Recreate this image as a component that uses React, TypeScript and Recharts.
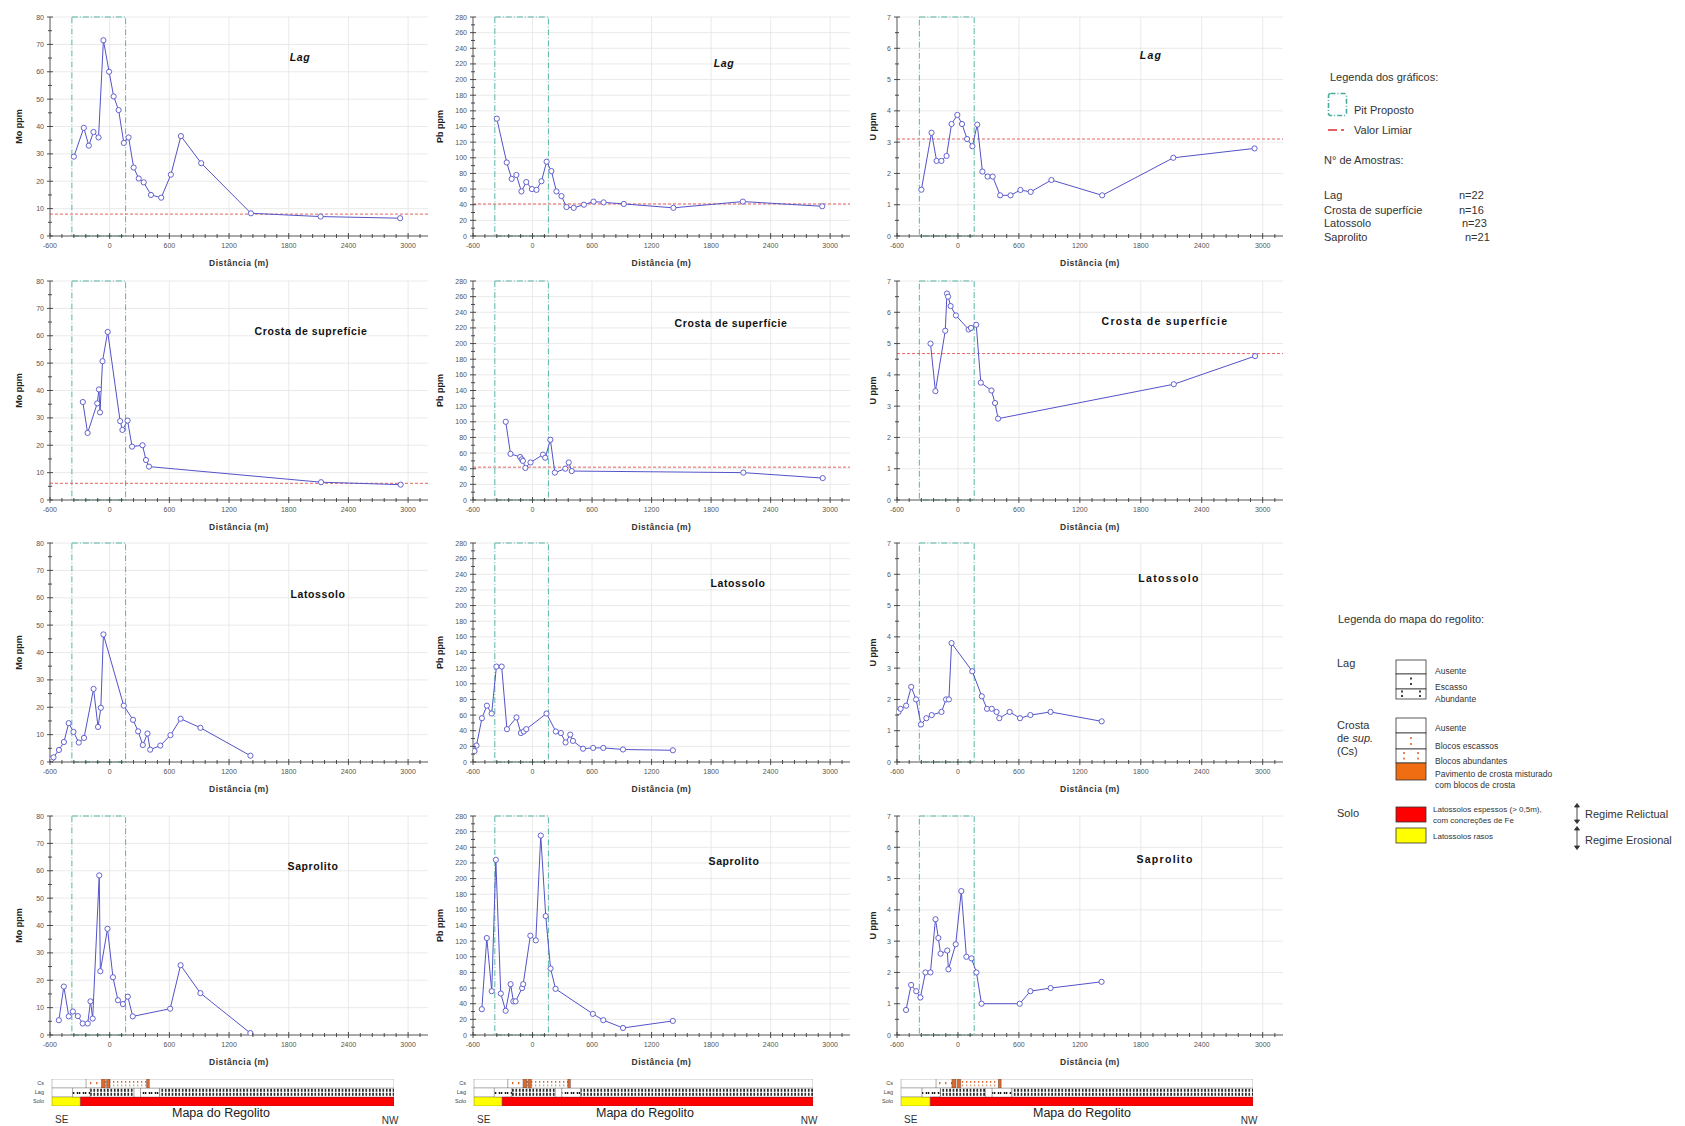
import React from 'react';
import {
  LineChart, Line, XAxis, YAxis, CartesianGrid, ReferenceLine, ReferenceArea,
  BarChart, Bar, Cell,
} from 'recharts';

// distances (m) of the samples per regolith unit
const distLag = [-360, -260, -210, -163, -112, -63, -6, 40, 90, 142, 190, 241, 292, 342, 415, 518, 615, 716, 920, 1420, 2120, 2920];
const distCrosta = [-270, -222, -125, -108, -97, -72, -20, 105, 128, 180, 225, 330, 365, 395, 2125, 2925];
const distLatossolo = [-585, -565, -510, -460, -412, -364, -311, -258, -162, -117, -89, -63, 141, 235, 286, 333, 380, 407, 509, 611, 713, 912, 1415];
const distSaprolito = [-511, -461, -411, -370, -320, -271, -221, -193, -171, -105, -94, -22, 33, 83, 133, 182, 232, 608, 713, 912, 1414];

const moLag = [29, 39.5, 33, 38, 36, 71.5, 60, 51, 46, 34, 36, 25, 21, 19.6, 15, 14, 22.4, 36.5, 26.6, 8.3, 7.1, 6.5];
const pbLag = [150, 94, 73, 78, 57, 69, 60, 59, 70, 95, 83, 57, 51, 37, 36, 40, 44, 43, 41, 36, 44, 38];
const uLag = [1.48, 3.3, 2.4, 2.4, 2.56, 3.58, 3.87, 3.58, 3.1, 2.87, 3.56, 2.06, 1.9, 1.9, 1.3, 1.3, 1.47, 1.41, 1.79, 1.3, 2.5, 2.8];

const moCrosta = [35.8, 24.5, 35.3, 40.4, 32, 50.7, 61.4, 28.8, 25.6, 29, 19.5, 20, 14.6, 12.2, 6.5, 5.6];
const pbCrosta = [100, 59, 55, 52, 50, 41, 48, 58, 54, 77, 35, 40, 48, 37, 35, 28];
const uCrosta = [5.0, 3.48, 5.41, 6.6, 6.5, 6.2, 5.9, 5.45, 5.5, 5.6, 3.75, 3.5, 3.1, 2.6, 3.7, 4.6];

const moLatossolo = [1, 1.7, 4.4, 7.3, 14.2, 11, 7.1, 8.8, 26.7, 12.8, 19.8, 46.6, 20.6, 15.4, 11.2, 6.2, 10.4, 4.5, 6, 9.8, 15.8, 12.5, 2.3];
const pbLatossolo = [14, 21, 56, 72, 62, 122, 122, 42, 57, 37, 39, 42, 62, 39, 37, 25, 35, 27, 17, 18, 18, 16, 15];
const uLatossolo = [1.6, 1.7, 1.8, 2.4, 2.0, 1.2, 1.4, 1.5, 1.6, 2.0, 2.0, 3.8, 2.9, 2.1, 1.7, 1.7, 1.6, 1.4, 1.6, 1.4, 1.5, 1.6, 1.3];

const moSaprolito = [5.4, 17.7, 6.8, 8.6, 6.9, 4.2, 4.2, 12.3, 6.0, 58.3, 23.3, 38.8, 21.1, 12.7, 11.3, 14, 6.8, 9.6, 25.5, 15.3, 0.7];
const pbSaprolito = [33, 124, 56, 224, 53, 31, 65, 43, 43, 60, 65, 127, 121, 255, 152, 85, 59, 27, 19, 9, 18];
const uSaprolito = [0.8, 1.6, 1.4, 1.2, 2.0, 2.0, 3.7, 3.1, 2.6, 2.7, 2.1, 2.9, 4.6, 2.5, 2.45, 2.0, 1.0, 1.0, 1.4, 1.5, 1.7];

// threshold ("valor limiar") per element, only drawn for Lag and Crosta
const limiarLag = [8, 41, 3.1];
const limiarCrosta = [6.1, 42, 4.68];

// proposed pit limits (m)
const pitX = [-380, 160];

const X_MAJOR = [-600, 0, 600, 1200, 1800, 2400, 3000];
const MO_TICKS = [0, 10, 20, 30, 40, 50, 60, 70, 80];
const PB_TICKS = [0, 20, 40, 60, 80, 100, 120, 140, 160, 180, 200, 220, 240, 260, 280];
const U_TICKS = [0, 1, 2, 3, 4, 5, 6, 7];

const titles = [
  ['Lag', 'Lag', 'Lag'],
  ['Crosta de suprefície', 'Crosta de superfície', 'Crosta de superfície'],
  ['Latossolo', 'Latossolo', 'Latossolo'],
  ['Saprolito', 'Saprolito', 'Saprolito'],
];

// regolith map strip (% of the section length, SE -> NW)
const csSeg = [10, 4.5, 1.1, 0.4, 1.0, 10.7, 0.8, 71.5];
const csKind = ['none', 'csSparse', 'pav', 'csDense', 'pav', 'csDense', 'pav', 'none'];
const lagSeg = [6, 5.2, 12.8, 1.9, 5.6, 68.5];
const lagKind = ['none', 'lagSparse', 'lagDense', 'none', 'lagSparse', 'lagDense'];
const soloSeg = [8.3, 91.7];
const soloKind = ['raso', 'espesso'];

const amostras = [
  ['Lag', 'n=22'],
  ['Crosta de superfície', 'n=16'],
  ['Latossolo', 'n=23'],
  ['Saprolito', 'n=21'],
];

// ---------- layout ----------
const COL_LEFT = [50, 473, 897];
const COL_W = [378, 377, 386];
const ROW_TOP = [17, 281, 543, 816];
const PLOT_H = 219;
const TITLE_POS = [
  [[300, 57], [724, 63], [1151, 55]],
  [[311, 331], [731, 323], [1165, 321]],
  [[318, 594], [738, 583], [1169, 578]],
  [[313, 866], [734, 861], [1165, 859]],
];
const MAPS = [
  { left: 52, width: 342, label: 221 },
  { left: 474, width: 339, label: 645 },
  { left: 901, width: 352, label: 1082 },
];

const LINE = '#5353c9';
const AXIS = '#3a3a3a';
const FONT = "'Liberation Sans', Arial, sans-serif";
const NARROW = "'Liberation Sans Narrow', 'Liberation Sans', Arial, sans-serif";

const ELEMENTS = [
  { label: 'Mo ppm', yMax: 80, majors: MO_TICKS, minor: 5, labelOffset: 17 },
  { label: 'Pb ppm', yMax: 280, majors: PB_TICKS, minor: 10, labelOffset: 15 },
  { label: 'U ppm', yMax: 7, majors: U_TICKS, minor: 0.5, labelOffset: 24 },
];

const ROWS = [
  { dist: distLag, series: [moLag, pbLag, uLag], limiar: limiarLag },
  { dist: distCrosta, series: [moCrosta, pbCrosta, uCrosta], limiar: limiarCrosta },
  { dist: distLatossolo, series: [moLatossolo, pbLatossolo, uLatossolo], limiar: null },
  { dist: distSaprolito, series: [moSaprolito, pbSaprolito, uSaprolito], limiar: null },
];

const X_TICKS: number[] = [];
for (let v = -600; v <= 3120; v += 120) X_TICKS.push(v);

const isMultiple = (v: number, step: number) => Math.abs(v / step - Math.round(v / step)) < 1e-6;

const XTick = (props: any) => {
  const { x, y, payload } = props;
  const major = isMultiple(payload.value, 600);
  const len = major ? 3 : 2;
  return (
    <g>
      <line x1={x} x2={x} y1={y - len} y2={y + len} stroke={AXIS} strokeWidth={0.9} />
      {major && (
        <text x={x} y={y + 12} textAnchor="middle" fontSize={7} fill="#555" fontFamily={NARROW}>
          {payload.value}
        </text>
      )}
    </g>
  );
};

const makeYTick = (step: number) => (props: any) => {
  const { x, y, payload } = props;
  const major = isMultiple(payload.value, step);
  const len = major ? 3 : 2;
  return (
    <g>
      <line x1={x - len} x2={x + len} y1={y} y2={y} stroke={AXIS} strokeWidth={0.9} />
      {major && (
        <text x={x - 6} y={y + 2.5} textAnchor="end" fontSize={7} fill="#555" fontFamily={NARROW}>
          {payload.value}
        </text>
      )}
    </g>
  );
};

function Panel({ row, col }: { row: number; col: number }) {
  const el = ELEMENTS[col];
  const r = ROWS[row];
  const vals = r.series[col];
  const data = r.dist.map((d, i) => ({ d, v: vals[i] }));
  const yTicks: number[] = [];
  el.majors.forEach((m, i) => {
    yTicks.push(m);
    if (i < el.majors.length - 1) yTicks.push(m + el.minor);
  });
  const step = el.majors[1] - el.majors[0];
  const left = COL_LEFT[col];
  const top = ROW_TOP[row];
  const w = COL_W[col];
  const [tx, ty] = TITLE_POS[row][col];
  const title = titles[row][col];
  const spaced = col === 2;
  return (
    <>
      <div style={{ position: 'absolute', left: left - 48, top: top - 10 }}>
        <LineChart
          width={48 + w + 6}
          height={10 + PLOT_H + 36}
          data={data}
          margin={{ top: 10, right: 6, bottom: 0, left: 0 }}
        >
          <CartesianGrid stroke="#e4e4e4" strokeWidth={0.8} verticalValues={X_MAJOR} horizontalValues={el.majors} />
          <XAxis
            type="number"
            dataKey="d"
            domain={[-600, 3200]}
            ticks={X_TICKS}
            interval={0}
            allowDataOverflow
            height={36}
            tickSize={0}
            tickMargin={0}
            tickLine={false}
            axisLine={{ stroke: AXIS, strokeWidth: 0.8 }}
            tick={(p: any) => <XTick {...p} />}
            label={{
              value: 'Distância (m)',
              position: 'insideBottom',
              offset: 6,
              style: { fontSize: 8.5, fontWeight: 700, fill: '#333', letterSpacing: 0.5, fontFamily: NARROW },
            }}
          />
          <YAxis
            type="number"
            domain={[0, el.yMax]}
            ticks={yTicks}
            interval={0}
            allowDataOverflow
            width={48}
            tickSize={0}
            tickMargin={0}
            tickLine={false}
            axisLine={{ stroke: AXIS, strokeWidth: 0.8 }}
            tick={makeYTick(step)}
            label={{
              value: el.label,
              angle: -90,
              position: 'insideLeft',
              offset: el.labelOffset,
              style: { textAnchor: 'middle', fontSize: 9, fontWeight: 700, fill: '#222', fontFamily: NARROW },
            }}
          />
          <ReferenceArea
            x1={pitX[0]}
            x2={pitX[1]}
            y1={0}
            y2={el.yMax}
            fill="none"
            fillOpacity={0}
            stroke="#46ad9c"
            strokeWidth={0.9}
            strokeDasharray="6 2 1 2"
          />
          {r.limiar && (
            <ReferenceLine y={r.limiar[col]} stroke="#e0524f" strokeWidth={0.9} strokeDasharray="3 2" />
          )}
          <Line
            type="linear"
            dataKey="v"
            stroke={LINE}
            strokeWidth={1}
            dot={{ r: 2.6, stroke: LINE, strokeWidth: 0.9, fill: '#fff' }}
            isAnimationActive={false}
          />
        </LineChart>
      </div>
      <div
        style={{
          position: 'absolute',
          left: tx,
          top: ty,
          transform: 'translate(-50%, -50%)',
          whiteSpace: 'nowrap',
          fontFamily: spaced ? FONT : NARROW,
          fontSize: 10.5,
          fontWeight: 700,
          fontStyle: row === 0 ? 'italic' : 'normal',
          letterSpacing: spaced ? 1.3 : 0.6,
          color: '#111',
          lineHeight: 1,
        }}
      >
        {title}
      </div>
    </>
  );
}

const fillFor = (kind: string, id: string) => {
  switch (kind) {
    case 'pav': return '#e2692a';
    case 'raso': return '#ffff00';
    case 'espesso': return '#ff0000';
    case 'none': return '#ffffff';
    default: return `url(#${id}-${kind})`;
  }
};

function RegolithMap({ left, width, label, id }: { left: number; width: number; label: number; id: string }) {
  const segs = [csSeg, lagSeg, soloSeg];
  const kinds = [csKind, lagKind, soloKind];
  const names = ['Cs', 'Lag', 'Solo'];
  const n = Math.max(...segs.map((s) => s.length));
  const rows = names.map((layer, j) => {
    const o: any = { layer };
    segs[j].forEach((v, i) => { o[`s${i}`] = v; });
    return o;
  });
  return (
    <>
      <div style={{ position: 'absolute', left: left - 24, top: 1079 }}>
        <BarChart
          width={width + 24}
          height={27}
          layout="vertical"
          data={rows}
          margin={{ top: 0, right: 0, bottom: 0, left: 0 }}
          barCategoryGap={0}
        >
          <defs>
            <pattern id={`${id}-lagDense`} width={3.4} height={9} patternUnits="userSpaceOnUse">
              <rect width={3.4} height={9} fill="#fff" />
              <rect x={1} y={0.8} width={1.4} height={3} fill="#000" />
              <rect x={1} y={4.8} width={1.4} height={3} fill="#000" />
            </pattern>
            <pattern id={`${id}-lagSparse`} width={6} height={9} patternUnits="userSpaceOnUse">
              <rect width={6} height={9} fill="#fff" />
              <circle cx={1.5} cy={5} r={0.9} fill="#000" />
              <circle cx={3.6} cy={5} r={0.9} fill="#000" />
            </pattern>
            <pattern id={`${id}-csSparse`} width={6} height={9} patternUnits="userSpaceOnUse">
              <rect width={6} height={9} fill="#fff" />
              <rect x={2} y={3} width={1.4} height={2.2} fill="#e2692a" />
            </pattern>
            <pattern id={`${id}-csDense`} width={4} height={9} patternUnits="userSpaceOnUse">
              <rect width={4} height={9} fill="#fff" />
              <rect x={1} y={2} width={1.3} height={1.8} fill="#e2692a" />
              <rect x={1} y={5.5} width={1.3} height={1.8} fill="#d9a07a" />
            </pattern>
          </defs>
          <XAxis type="number" hide domain={[0, 100]} />
          <YAxis
            type="category"
            dataKey="layer"
            width={24}
            axisLine={false}
            tickLine={false}
            interval={0}
            tick={{ fontSize: 5.5, fill: '#444', fontFamily: FONT }}
          />
          {Array.from({ length: n }, (_, i) => (
            <Bar
              key={i}
              dataKey={`s${i}`}
              stackId="m"
              isAnimationActive={false}
              stroke="#333"
              strokeWidth={0.3}
            >
              {rows.map((_, j) => (
                <Cell key={j} fill={fillFor(kinds[j][i] || 'none', id)} />
              ))}
            </Bar>
          ))}
        </BarChart>
      </div>
      <div style={{ position: 'absolute', left: label, top: 1113, transform: 'translate(-50%, -50%)', fontSize: 12.5, color: '#222', whiteSpace: 'nowrap', lineHeight: 1 }}>
        Mapa do Regolito
      </div>
      <div style={{ position: 'absolute', left: left + 3, top: 1120, transform: 'translateY(-50%)', fontSize: 10, color: '#333', lineHeight: 1 }}>SE</div>
      <div style={{ position: 'absolute', left: left + width - 4, top: 1121, transform: 'translate(-50%, -50%)', fontSize: 10, color: '#333', lineHeight: 1 }}>NW</div>
    </>
  );
}

const T = ({ x, y, size = 11, children, style }: any) => (
  <div style={{ position: 'absolute', left: x, top: y, transform: 'translateY(-50%)', fontSize: size, color: '#333', whiteSpace: 'nowrap', lineHeight: 1, ...style }}>
    {children}
  </div>
);

function GraphLegend() {
  return (
    <>
      <T x={1330} y={77}>Legenda dos gráficos:</T>
      <svg style={{ position: 'absolute', left: 1327, top: 92 }} width={22} height={26}>
        <rect x={1.5} y={1.5} width={18} height={22} rx={2} fill="none" stroke="#46ad9c" strokeWidth={1.6} strokeDasharray="5 2 1 2" />
      </svg>
      <T x={1354} y={110}>Pit Proposto</T>
      <svg style={{ position: 'absolute', left: 1327, top: 127 }} width={22} height={6}>
        <line x1={1} x2={21} y1={3} y2={3} stroke="#d9322f" strokeWidth={1.6} strokeDasharray="9 4 3 4" />
      </svg>
      <T x={1354} y={130}>Valor Limiar</T>
      <T x={1324} y={160}>N° de Amostras:</T>
      {amostras.map(([name, n], i) => (
        <React.Fragment key={name}>
          <T x={1324} y={[195, 210, 223, 237][i]}>{name}</T>
          <T x={[1459, 1459, 1462, 1465][i]} y={[195, 210, 223, 237][i]}>{n}</T>
        </React.Fragment>
      ))}
    </>
  );
}

function RegolithLegend() {
  const dot = (cx: number, cy: number, c: string) => <rect x={cx - 0.8} y={cy - 1} width={1.6} height={2} fill={c} />;
  return (
    <>
      <T x={1338} y={619}>Legenda do mapa do regolito:</T>
      <T x={1337} y={663}>Lag</T>
      <T x={1337} y={725}>Crosta</T>
      <T x={1337} y={738}>de <i>sup.</i></T>
      <T x={1337} y={751}>(Cs)</T>
      <T x={1337} y={813}>Solo</T>
      <svg style={{ position: 'absolute', left: 1395, top: 658 }} width={33} height={190}>
        <g stroke="#333" strokeWidth={0.8}>
          <rect x={1} y={2} width={30} height={14} fill="#fff" />
          <rect x={1} y={16} width={30} height={15} fill="#fff" />
          <rect x={1} y={31} width={30} height={10} fill="#fff" />
          <rect x={1} y={60} width={30} height={15} fill="#fff" />
          <rect x={1} y={75} width={30} height={16} fill="#fff" />
          <rect x={1} y={91} width={30} height={14} fill="#fff" />
          <rect x={1} y={105} width={30} height={17} fill="#f06d12" />
          <rect x={1} y={149} width={30} height={15} fill="#ff0000" />
          <rect x={1} y={170} width={30} height={15} fill="#ffff00" />
        </g>
        {dot(16, 20.5, '#111')}{dot(16, 26, '#111')}
        {dot(7, 33.5, '#111')}{dot(7, 38, '#111')}{dot(25, 33.5, '#111')}{dot(25, 38, '#111')}
        {dot(16, 80, '#e2692a')}{dot(16, 86, '#e2692a')}
        {dot(9, 95, '#e2692a')}{dot(9, 100.5, '#e2692a')}{dot(23, 95, '#e2692a')}{dot(23, 100.5, '#e2692a')}
      </svg>
      <T x={1435} y={671} size={8.5}>Ausente</T>
      <T x={1435} y={687} size={8.5}>Escasso</T>
      <T x={1435} y={699} size={8.5}>Abundante</T>
      <T x={1435} y={728} size={8.5}>Ausente</T>
      <T x={1435} y={746} size={8.5}>Blocos escassos</T>
      <T x={1435} y={761} size={8.5}>Blocos abundantes</T>
      <T x={1435} y={774} size={8.5}>Pavimento de crosta misturado</T>
      <T x={1435} y={785} size={8.5}>com blocos de crosta</T>
      <T x={1433} y={810} size={8}>Latossolos espessos (&gt; 0,5m),</T>
      <T x={1433} y={821} size={8}>com concreções de Fe</T>
      <T x={1433} y={837} size={8}>Latossolos rasos</T>
      <svg style={{ position: 'absolute', left: 1572, top: 803 }} width={10} height={48}>
        <g fill="#333" stroke="#333" strokeWidth={0.9}>
          <line x1={5} x2={5} y1={3} y2={18} />
          <path d="M2.5 4 L5 0.5 L7.5 4 Z" />
          <path d="M2.5 17 L5 20.5 L7.5 17 Z" />
          <line x1={5} x2={5} y1={26} y2={44} />
          <path d="M2.5 27 L5 23.5 L7.5 27 Z" />
          <path d="M2.5 43 L5 46.5 L7.5 43 Z" />
        </g>
      </svg>
      <T x={1585} y={814}>Regime Relictual</T>
      <T x={1585} y={840}>Regime Erosional</T>
    </>
  );
}

export default function App() {
  return (
    <div
      style={{
        position: 'absolute',
        left: 0,
        top: 0,
        width: 1685,
        height: 1126,
        background: '#fff',
        overflow: 'hidden',
        fontFamily: FONT,
      }}
    >
      {ROWS.map((_, row) =>
        ELEMENTS.map((__, col) => <Panel key={`${row}-${col}`} row={row} col={col} />)
      )}
      {MAPS.map((m, i) => (
        <RegolithMap key={i} id={`map${i}`} left={m.left} width={m.width} label={m.label} />
      ))}
      <GraphLegend />
      <RegolithLegend />
    </div>
  );
}
